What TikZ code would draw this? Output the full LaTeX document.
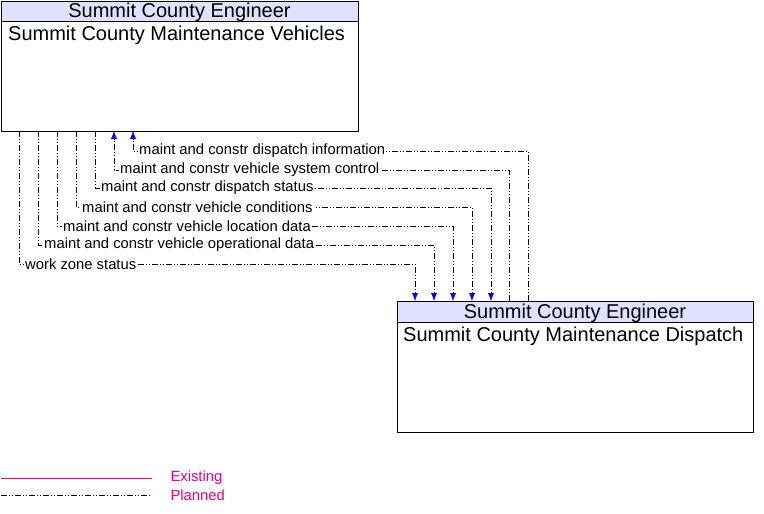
\documentclass[tikz,border=0pt]{standalone}
\usepackage{fontspec}
\setmainfont{Liberation Sans}
\usetikzlibrary{positioning}
\definecolor{headfill}{RGB}{224,224,255}
\definecolor{flowblue}{RGB}{0,0,255}
\tikzset{
  planned/.style={draw=black, dash pattern=on 6pt off 2pt on 1pt off 2pt on 1pt off 2pt},
  flowlabel/.style={fill=white, inner sep=1pt, font=\fontsize{14.8pt}{16pt}\selectfont, anchor=west, text=black},
  titletext/.style={font=\fontsize{20pt}{22pt}\selectfont},
}
\usetikzlibrary{arrows.meta}
\begin{document}
\begin{tikzpicture}[x=1pt,y=-1pt]
    \useasboundingbox (0,0) rectangle (764,514);

    % vehicles
    \draw [fill=headfill] (1,1) rectangle (358,21);
    \draw [fill=white] (1,21) rectangle (358,131);
    \node [titletext, inner sep=0pt] (vehHead) at (179.5,12) {Summit County Engineer};
    \node [titletext, anchor=north west, inner sep=0pt] (vehName) at (8,26) {Summit County Maintenance Vehicles};

    % dispatch
    \draw [fill=headfill] (397,301) rectangle (753,322);
    \draw [fill=white] (397,322) rectangle (753,432);
    \node [titletext, inner sep=0pt] (dspHead) at (575,313) {Summit County Engineer};
    \node [titletext, anchor=north west, inner sep=0pt] (dspName) at (403,327) {Summit County Maintenance Dispatch};

    % vehicles -> dispatch
    \foreach \xa/\xb/\yy/\txt in {19/415/264/work zone status,
        38/434/245/maint and constr vehicle operational data,
        57/453/226/maint and constr vehicle location data,
        76/472/207/maint and constr vehicle conditions,
        95/491/188/maint and constr dispatch status} {
        \draw [planned] (\xa,131) -- (\xa,\yy) -- (\xb,\yy) -- (\xb,293);
        \draw [-{Latex[length=8pt,width=6pt]}, flowblue] (\xb,292) -- (\xb,301);
        \node [flowlabel] at (\xa+5,\yy) {\txt};
    }

    % dispatch -> vehicles
    \foreach \xa/\xb/\yy/\txt in {509/114/170/maint and constr vehicle system control,
        528/133/151/maint and constr dispatch information} {
        \draw [planned] (\xa,301) -- (\xa,\yy) -- (\xb,\yy) -- (\xb,139);
        \draw [-{Latex[length=8pt,width=6pt]}, flowblue] (\xb,140) -- (\xb,131);
        \node [flowlabel] at (\xb+5,\yy) {\txt};
    }

    % legend
    \draw [magenta] (1,478) -- (152,478);
    \node [anchor=west, text=magenta, font=\fontsize{14.8pt}{16pt}\selectfont] (lgExist) at (167,478) {Existing};
    \draw [planned] (1,495) -- (152,495);
    \node [anchor=west, text=magenta, font=\fontsize{14.8pt}{16pt}\selectfont] (lgPlan) at (167,495) {Planned};
\end{tikzpicture}
\end{document}
